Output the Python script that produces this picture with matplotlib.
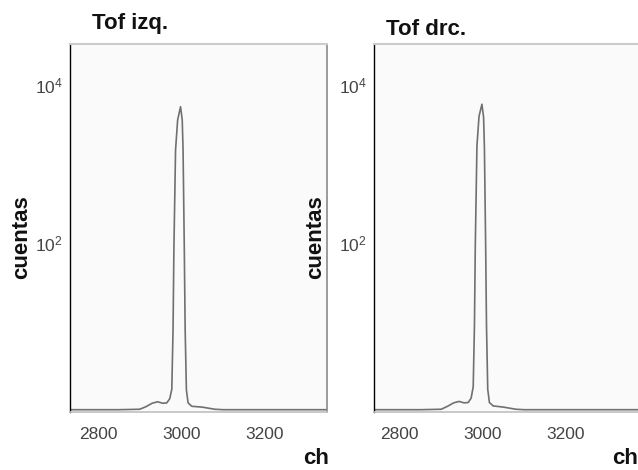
import matplotlib
matplotlib.use('Agg')
import matplotlib.pyplot as plt
from matplotlib.ticker import FixedLocator, NullLocator

plt.rcParams['font.family'] = 'Liberation Sans'
plt.rcParams['mathtext.fontset'] = 'custom'
plt.rcParams['mathtext.rm'] = 'Liberation Sans'
plt.rcParams['mathtext.default'] = 'regular'

# spectra (channel, counts)
channels = [2730, 2850, 2900, 2915, 2930, 2943, 2955, 2965, 2972, 2977, 2980,
            2982, 2986, 2991, 2998, 3002, 3004, 3007, 3009, 3012, 3016,
            3025, 3050, 3080, 3100, 3380]
counts_izq = [0.77, 0.77, 0.78, 0.84, 0.93, 0.97, 0.93, 0.94, 1.06, 1.4, 8,
              81, 1500, 3600, 5300, 3600, 1500, 81, 8, 1.37, 0.94,
              0.85, 0.83, 0.78, 0.77, 0.77]
counts_drc = [0.77, 0.77, 0.78, 0.85, 0.94, 0.98, 0.94, 0.95, 1.08, 1.5, 9,
              90, 1700, 4000, 5700, 3900, 1600, 90, 9, 1.4, 0.95,
              0.86, 0.83, 0.78, 0.77, 0.77]

x_ticks = [2800, 3000, 3200]
y_ticks = [1e2, 1e4]
titles = ['Tof izq.', 'Tof drc.']

W, H = 638, 470
fig = plt.figure(figsize=(W / 100, H / 100), dpi=100)


def px(x, y):
    return x / W, 1 - y / H


panels = [
    # left px, width px, xlim, data, title pos, ylabel x, ch x
    (70, 257, (2733, 3349), counts_izq, (92, 29), 22, 316),
    (374, 264, (2738, 3374), counts_drc, (386, 35), 316, 625),
]

for i, (lx, wd, xlim, counts, tpos, ylx, chx) in enumerate(panels):
    ax = fig.add_axes([lx / W, 1 - 412 / H, wd / W, 368 / H])
    ax.set_facecolor('#fafafa')
    ax.plot(channels, counts, color='#707070', lw=1.2)
    ax.set_yscale('log')
    ax.set_xlim(*xlim)
    ax.set_ylim(0.72, 33000)
    ax.yaxis.set_major_locator(FixedLocator(y_ticks))
    ax.yaxis.set_minor_locator(NullLocator())
    ax.set_xticks(x_ticks)
    ax.tick_params(axis='both', length=0, labelsize=12.5, labelcolor='#444444')
    ax.tick_params(axis='x', pad=11)
    ax.tick_params(axis='y', pad=5)
    ax.spines['left'].set_color('black')
    ax.spines['left'].set_linewidth(1.0)
    ax.spines['top'].set_color('#cccccc')
    ax.spines['top'].set_linewidth(1.5)
    ax.spines['bottom'].set_color('#c0c0c0')
    ax.spines['bottom'].set_linewidth(1.2)
    ax.spines['right'].set_color('#8a8a8a')
    ax.spines['right'].set_linewidth(1.2)
    if i == 1:
        ax.spines['right'].set_visible(False)

    fig.text(*px(*tpos), titles[i], fontsize=16, fontweight='bold',
             ha='left', va='baseline', color='#111111')
    fig.text(*px(ylx, 237), 'cuentas', fontsize=16, fontweight='bold',
             rotation=90, ha='center', va='center', color='#111111',
             zorder=5)
    fig.text(*px(chx, 458), 'ch', fontsize=16, fontweight='bold',
             ha='center', va='center', color='#111111')

fig.savefig('out.png', dpi=100)
